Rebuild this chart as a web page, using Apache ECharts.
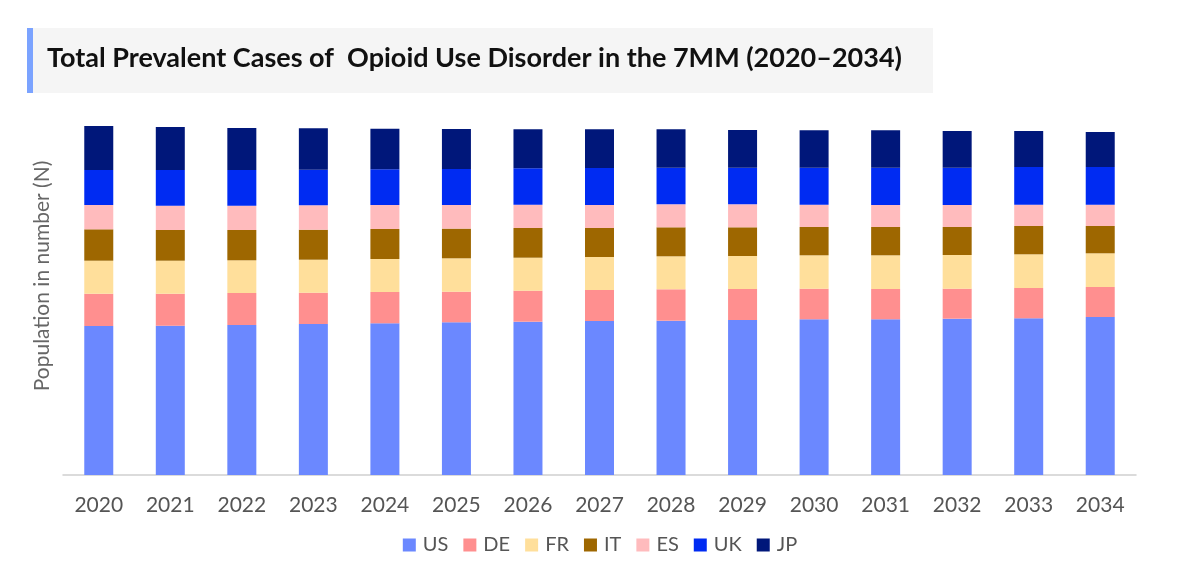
<!DOCTYPE html>
<html>
<head>
<meta charset="utf-8">
<script src="https://cdn.jsdelivr.net/npm/echarts@6/dist/echarts.min.js"></script>
<style>
  html, body { margin: 0; padding: 0; background: #fff; }
  #chart { width: 1200px; height: 579px; }
</style>
</head>
<body>
<div id="chart"></div>
<script>
// data (arbitrary units, no y labels shown)
var years = ['2020','2021','2022','2023','2024','2025','2026','2027','2028','2029','2030','2031','2032','2033','2034'];
var us = [149, 149.3, 150, 151, 151.7, 152.7, 153.3, 154, 154.3, 155, 155.7, 155.7, 156.3, 156.7, 158];
var de = [32.3, 32, 32, 31.3, 31.3, 30.6, 31, 31, 31.4, 31, 30.6, 30.3, 30, 30.4, 30];
var fr = [33, 33, 32.7, 33, 33, 33.4, 33, 33, 33, 33, 33.4, 33.7, 33.7, 33.6, 33.7];
var it = [31.4, 30.7, 30.3, 30, 30, 29.7, 29.7, 29, 29, 28.7, 28.3, 28.3, 28, 28.3, 27.3];
var es = [24.3, 24.3, 24.3, 24.4, 24, 23.7, 23.3, 23, 23, 23, 22.3, 22, 22, 21.3, 21.3];
var uk = [35, 35.7, 35.7, 35.6, 35.7, 36, 36.4, 37, 36.6, 36.6, 37, 37.3, 37.3, 37.7, 37.7];
var jp = [44, 43, 42, 41.4, 40.6, 40, 39, 38.7, 38.4, 37.7, 37.4, 37.4, 36.7, 36, 35];

var seriesNames = ['US', 'DE', 'FR', 'IT', 'ES', 'UK', 'JP'];
var seriesData = [us, de, fr, it, es, uk, jp];
var colors = ['#6b88ff', '#ff8f8f', '#ffdf9b', '#9e6700', '#ffbbbd', '#002bf2', '#00177a'];

var FONT = 'Lato';

var series = [];
for (var i = 0; i < seriesNames.length; i++) {
    series.push({
        name: seriesNames[i],
        type: 'bar',
        stack: 'total',
        barWidth: 29,
        data: seriesData[i],
        itemStyle: { color: colors[i] }
    });
}

var chart = echarts.init(document.getElementById('chart'));

var option = {
    animation: false,
    color: colors,
    graphic: [
        { type: 'rect', left: 27, top: 28, shape: { width: 906, height: 65 }, style: { fill: '#f5f5f5' }, z: 0 },
        { type: 'rect', left: 27, top: 28, shape: { width: 6, height: 65 }, style: { fill: '#7ba3ff' }, z: 1 },
        // y axis title, sits a bit above the plot middle in the original
        {
            type: 'text', x: 42, y: 276, rotation: Math.PI / 2,
            style: {
                text: 'Population in number (N)', fontFamily: FONT, fontSize: 21,
                fill: '#666', align: 'center', verticalAlign: 'middle'
            }
        }
    ],
    title: {
        text: 'Total Prevalent Cases of  Opioid Use Disorder in the 7MM (2020\u20132034)',
        left: 47,
        top: 45,
        padding: 0,
        textStyle: { fontFamily: FONT, fontSize: 27, fontWeight: 'bold', color: '#111' }
    },
    legend: {
        bottom: 19,
        left: 'center',
        itemWidth: 13,
        itemHeight: 13,
        itemGap: 15,
        icon: 'rect',
        data: seriesNames,
        textStyle: { fontFamily: FONT, fontSize: 20, color: '#555', padding: [0, 0, 0, 2] }
    },
    grid: { left: 63, right: 64, top: 115, bottom: 104, containLabel: false },
    xAxis: {
        type: 'category',
        data: years,
        axisLine: { lineStyle: { color: '#d0d0d0', width: 1.5 } },
        axisTick: { show: false },
        axisLabel: { fontFamily: FONT, fontSize: 21, color: '#555', margin: 20 }
    },
    yAxis: {
        type: 'value',
        min: 0,
        max: 360,
        axisLabel: { show: false },
        axisLine: { show: false },
        axisTick: { show: false },
        splitLine: { show: false }
    },
    series: series
};

chart.setOption(option);
</script>
</body>
</html>
